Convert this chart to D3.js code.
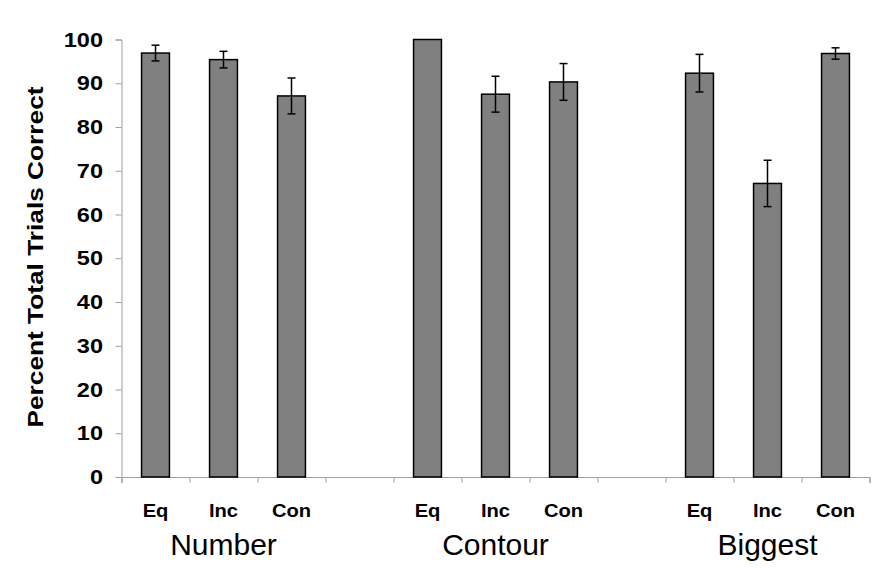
<!DOCTYPE html>
<html>
<head>
<meta charset="utf-8">
<script src="https://cdn.jsdelivr.net/npm/d3@7"></script>
<style>
  body { margin: 0; background: #fff; }
  text { font-family: Arial, "Liberation Sans", sans-serif; fill: #000; }
</style>
</head>
<body>
<div id="chart"></div>
<script>
var groups = ["Number", "Contour", "Biggest"];
var conditions = ["Eq", "Inc", "Con"];
var means = [96.9, 95.4, 87.1, 100, 87.5, 90.3, 92.3, 67.1, 96.8];
var errors = [1.8, 1.9, 4.1, 0, 4.1, 4.2, 4.3, 5.3, 1.3];
var yTicks = [0, 10, 20, 30, 40, 50, 60, 70, 80, 90, 100];

var width = 891,
  height = 568;

var svg = d3.select('#chart')
  .append('svg')
  .attr('width', width)
  .attr('height', height)

// 11 slots: 3 bars, 1 empty, 3 bars, 1 empty, 3 bars
var numSlots = 11;
var x = d3.scaleLinear().domain([0, numSlots]).range([121.5, 869.5])
var y = d3.scaleLinear().domain([0, 100]).range([477, 39.5])
var slotW = x(1) - x(0);
var barW = slotW * 0.41;

var data = [];
groups.forEach(function (g, gi) {
  conditions.forEach(function (c, ci) {
    var k = gi * 3 + ci;
    data.push({ group: g, cond: c, slot: gi * 4 + ci, mean: means[k], err: errors[k] });
  });
});

// y axis
var yAxis = svg.append('g')
  .attr('transform', 'translate(' + x(0) + ',0)')
  .call(d3.axisLeft(y).tickValues(yTicks).tickSize(6))
yAxis.select('.domain').attr('stroke', '#a0a0a0').attr('stroke-width', 1)
yAxis.selectAll('.tick line').attr('stroke', '#a0a0a0')
// the labels are drawn a bit wide, like the original
yAxis.selectAll('.tick text')
  .attr('x', 0)
  .attr('transform', 'translate(-18.5,0) scale(1.12,1)')
  .style('font-size', '21px')
  .style('font-weight', 'bold')
  .attr('fill', '#000')

// x axis (ticks between slots, labels drawn separately)
var xAxis = svg.append('g')
  .attr('transform', 'translate(0,' + y(0) + ')')
  .call(d3.axisBottom(x).tickValues(d3.range(numSlots + 1)).tickSize(6).tickFormat(''))
xAxis.select('.domain').attr('stroke', '#a0a0a0').attr('stroke-width', 1)
xAxis.selectAll('.tick line').attr('stroke', '#a0a0a0')

// bars
svg.selectAll('rect.bar')
  .data(data)
  .join('rect')
  .attr('class', 'bar')
  .attr('x', d => x(d.slot + 0.5) - barW / 2)
  .attr('y', d => y(d.mean))
  .attr('width', barW)
  .attr('height', d => y(0) - y(d.mean))
  .attr('fill', '#808080')
  .attr('stroke', '#000')
  .attr('stroke-width', 1.5)

// error bars
var eb = svg.selectAll('g.err')
  .data(data.filter(d => d.err > 0))
  .join('g')
  .attr('class', 'err')
  .attr('stroke', '#000')
  .attr('stroke-width', 1.5)

eb.append('line')
  .attr('x1', d => x(d.slot + 0.5))
  .attr('x2', d => x(d.slot + 0.5))
  .attr('y1', d => y(d.mean + d.err))
  .attr('y2', d => y(d.mean - d.err))
eb.append('line')
  .attr('x1', d => x(d.slot + 0.5) - 4)
  .attr('x2', d => x(d.slot + 0.5) + 4)
  .attr('y1', d => y(d.mean + d.err))
  .attr('y2', d => y(d.mean + d.err))
eb.append('line')
  .attr('x1', d => x(d.slot + 0.5) - 4)
  .attr('x2', d => x(d.slot + 0.5) + 4)
  .attr('y1', d => y(d.mean - d.err))
  .attr('y2', d => y(d.mean - d.err))

// condition labels
svg.selectAll('text.cond')
  .data(data)
  .join('text')
  .attr('class', 'cond')
  .attr('transform', d => 'translate(' + x(d.slot + 0.5) + ',517) scale(1.12,1)')
  .attr('text-anchor', 'middle')
  .style('font-size', '18px')
  .style('font-weight', 'bold')
  .text(d => d.cond)

// group labels
svg.selectAll('text.group')
  .data(groups)
  .join('text')
  .attr('class', 'group')
  .attr('x', (d, i) => x(i * 4 + 1.5))
  .attr('y', 555)
  .attr('text-anchor', 'middle')
  .style('font-size', '30px')
  .text(d => d)

// y title
svg.append('text')
  .attr('transform', 'translate(43,257) rotate(-90)')
  .attr('text-anchor', 'middle')
  .attr('textLength', 341)
  .attr('lengthAdjust', 'spacingAndGlyphs')
  .style('font-size', '22px')
  .style('font-weight', 'bold')
  .text('Percent Total Trials Correct')
</script>
</body>
</html>
